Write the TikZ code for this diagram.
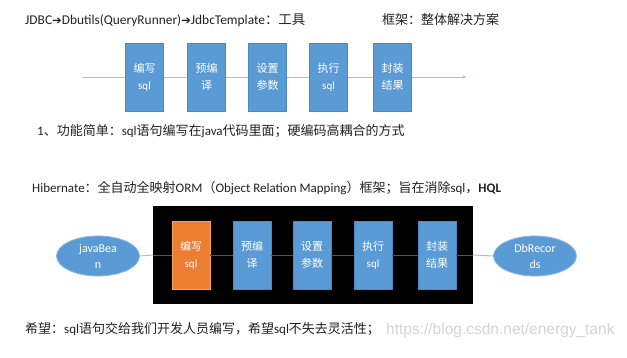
\documentclass[tikz,border=0pt]{standalone}
\usepackage{fontspec}
\setmainfont{Carlito}
\newfontfamily\cjk{Noto Sans CJK SC}
\newfontfamily\symfont{DejaVu Sans}
\newfontfamily\wmfont{Liberation Sans}
\usetikzlibrary{shapes.geometric,arrows.meta}
\definecolor{boxblue}{HTML}{5B9BD5}
\definecolor{boxedge}{HTML}{4A88C7}
\definecolor{boxorange}{HTML}{ED7D31}
\definecolor{orangeedge}{HTML}{F4A46A}
\definecolor{linkblue}{HTML}{9DC3E6}
\definecolor{darklink}{HTML}{2F5F80}
\definecolor{elledge}{HTML}{8DB6E0}
\definecolor{wmgray}{HTML}{D4D4D4}
\definecolor{txtcol}{HTML}{222222}
\tikzset{
  stagebox/.style={draw=boxedge, line width=0.6pt, fill=boxblue, minimum width=38pt, minimum height=68pt,
    inner sep=0pt, text=white, align=center, font=\cjk\fontsize{11}{17}\selectfont},
  hotbox/.style={stagebox, draw=orangeedge, fill=boxorange},
  endell/.style={ellipse, draw=elledge, line width=0.8pt, fill=boxblue, minimum width=83pt, minimum height=40pt,
    inner sep=0pt, text=white, align=center, font=\fontsize{12}{16}\selectfont},
  txt/.style={anchor=west, inner sep=0pt, text=txtcol, font=\fontsize{13}{15}\selectfont},
  toplink/.style={draw=linkblue, line width=0.8pt},
  lightlink/.style={draw=linkblue, line width=1pt},
  innerlink/.style={draw=darklink, line width=1pt}
}
\begin{document}
\begin{tikzpicture}[x=1pt,y=-1pt]
\useasboundingbox[fill=white] (0,0) rectangle (627,357);

% header texts
\node[txt] (t0) at (25,20) {\fontsize{13.4}{15}\selectfont JDBC{\symfont\fontsize{11.5}{13}\selectfont ➔}Dbutils(QueryRunner){\symfont\fontsize{11.5}{13}\selectfont ➔}JdbcTemplate{\cjk ：工具}};
\node[txt] (t1) at (382,20) {\cjk 框架：整体解决方案};

% top pipeline
\node[stagebox] (a1) at (144.5,77) {编写\\{\rmfamily sql}};
\node[stagebox] (a2) at (206.5,77) {预编\\译};
\node[stagebox] (a3) at (267.5,77) {设置\\参数};
\node[stagebox] (a4) at (328.5,77) {执行\\{\rmfamily sql}};
\node[stagebox] (a5) at (392.5,77) {封装\\结果};
\coordinate (ls) at (83,77);
\coordinate (le) at (466,77);
\draw[toplink] (ls) -- (a1);
\draw[toplink] (a1) -- (a2);
\draw[toplink] (a2) -- (a3);
\draw[toplink] (a3) -- (a4);
\draw[toplink] (a4) -- (a5);
\draw[toplink,-{Stealth[length=3.5pt,width=3.5pt]}] (a5) -- (le);

\node[txt] (t2) at (37,131) {1{\cjk 、功能简单：}sql{\cjk 语句编写在}java{\cjk 代码里面；硬编码高耦合的方式}};
\node[txt] (t3) at (32,188) {Hibernate{\cjk ：全自动全映射}ORM{\cjk （}Object Relation Mapping{\cjk ）框架；旨在消除}sql{\cjk ，}\textbf{HQL}};

% bottom pipeline
\node[fill=black, minimum width=320pt, minimum height=98pt, inner sep=0pt] (frame) at (313,255) {};
\node[hotbox] (b1) at (191,255) {编写\\{\rmfamily sql}};
\node[stagebox] (b2) at (252,255) {预编\\译};
\node[stagebox] (b3) at (312,255) {设置\\参数};
\node[stagebox] (b4) at (373,255) {执行\\{\rmfamily sql}};
\node[stagebox] (b5) at (437,255) {封装\\结果};
\node[endell] (jb) at (98,256) {javaBea\\n};
\node[endell] (db) at (535,256) {DbRecor\\ds};
\draw[lightlink] (jb.east) -- (frame.west);
\draw[innerlink] (frame.west) -- (b1);
\draw[innerlink] (b1) -- (b2);
\draw[innerlink] (b2) -- (b3);
\draw[innerlink] (b3) -- (b4);
\draw[innerlink] (b4) -- (b5);
\draw[innerlink] (b5) -- (frame.east);
\draw[lightlink] (frame.east) -- (db.west);

\node[txt] (t4) at (25,329) {{\cjk 希望：}sql{\cjk 语句交给我们开发人员编写，希望}sql{\cjk 不失去灵活性；}};
\node[anchor=west, inner sep=0pt, text=wmgray, font=\wmfont\fontsize{15.5}{17}\selectfont] (wm) at (386,330) {https://blog.csdn.net/energy\_tank};
\end{tikzpicture}
\end{document}
